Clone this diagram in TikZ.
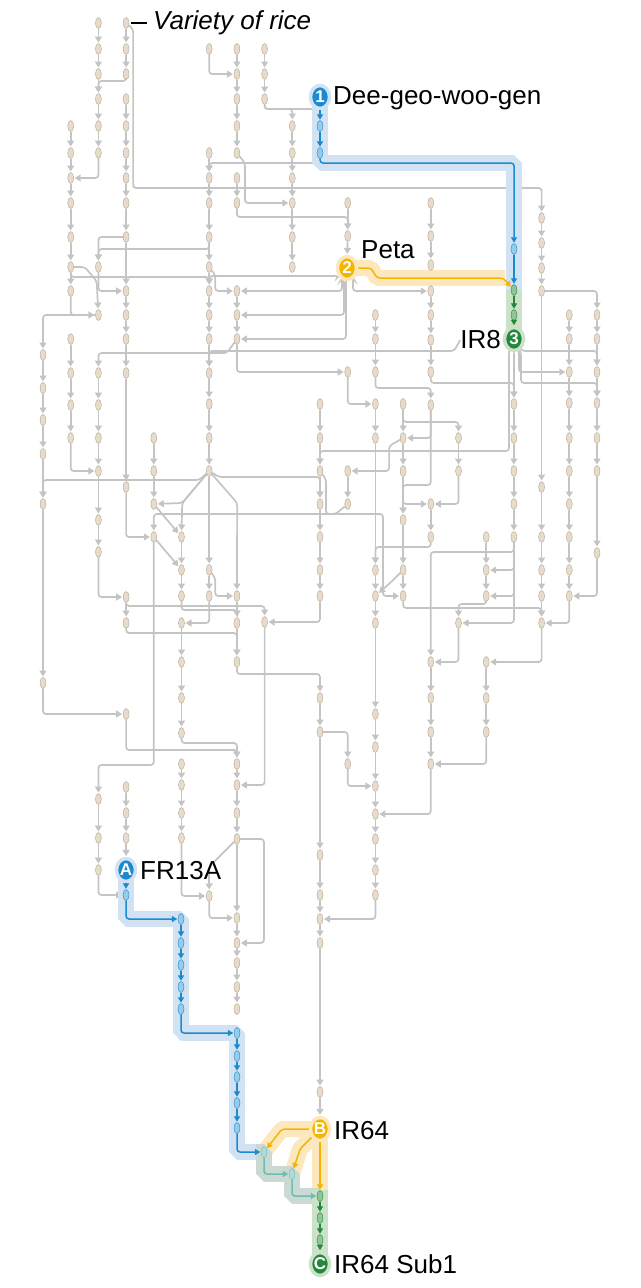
\documentclass[tikz,border=0pt]{standalone}
\usepackage{fontspec}
\setmainfont{Liberation Sans}
\usetikzlibrary{arrows.meta, shapes.geometric, calc}
\definecolor{seedfill}{HTML}{E6DBCC}
\definecolor{seedrim}{HTML}{B8A58B}
\definecolor{wiregrey}{HTML}{C4C4C4}
\definecolor{c1}{HTML}{1B8AD0}
\definecolor{c1band}{HTML}{D1E2F3}
\definecolor{c2}{HTML}{F5B400}
\definecolor{c2band}{HTML}{FDE8BE}
\definecolor{c3}{HTML}{24883A}
\definecolor{c3band}{HTML}{CCE2C8}
\definecolor{c4}{HTML}{6CBDB4}
\definecolor{c4band}{HTML}{CADAD3}
\pgfdeclarelayer{wires}
\pgfdeclarelayer{bands}
\pgfsetlayers{wires,bands,main}

\begin{document}
\begin{tikzpicture}[
    x=1pt, y=-1pt,
    seedbox/.style={ellipse, draw=seedrim, fill=seedfill, line width=0.4pt,
        minimum width=6pt, minimum height=11pt, inner sep=0pt},
    bluebox/.style={seedbox, draw=c1, fill=c1!45!white},
    greenbox/.style={seedbox, draw=c3, fill=c3!50!white},
    tealbox/.style={seedbox, draw=c4, fill=c4!55!white},
    wire/.style={draw=wiregrey, line width=1.7pt, rounded corners=3pt,
        -{Triangle[length=6pt, width=7pt]}, shorten >=0.8pt},
    hl/.style={draw=#1, line width=1.5pt, rounded corners=3pt,
        -{Triangle[length=5.5pt, width=6pt]}, shorten >=0.5pt},
    band/.style={draw=#1, line width=16pt, line join=bevel, line cap=butt},
    badge/.style={ellipse, fill=#1, text=white, minimum width=19pt, minimum height=23pt,
        inner sep=0pt, font=\bfseries\fontsize{17}{17}\selectfont},
    halo/.style={draw=#1, line width=3.5pt},
    lab/.style={inner sep=0pt, font=\fontsize{26}{29}\selectfont},
]
\useasboundingbox (0,0) rectangle (640,1288);

% === VARIETIES (column / rows) ===
\foreach \c/\rows in {
    0/{355,388,420,454,504,683},
    1/{126,153,178,203,237,267,291,339,373,405,438},
    2/{23,49,74,99,126,153,267,315,373,405,438,471,520,552,799,838,870},
    3/{23,49,74,99,126,153,178,203,237,291,315,339,373,487,597,623,714,787,813,838},
    4/{438,471,504,537},
    5/{537,570,596,623,662,698,733,764,785,813,838},
    6/{49,153,178,203,237,267,291,315,339,373,404,438,471,570,596,896},
    7/{49,74,99,126,153,178,203,291,315,339,596,623,662,764,785,813,839,918,943,963,987,1009},
    8/{49,74,99,622},
    9/{126,153,178,203,237,267},
    10/{404,438,471,504,537,570,596,698,732,855,895,919,943,1092},
    11/{203,236,372,471,504,764},
    12/{315,339,372,404,438,570,596,623,714,747,786,814,839,870,895},
    13/{404,438,471,520,570,596},
    14/{203,236,265,291,315,340,372,405,504,537,662,698,732,764},
    15/{438,471,623},
    16/{537,570,596,662,698,732},
    17/{404,438,471,504,537},
    18/{218,243,268,291,487,537,570,596,623},
    19/{315,339,372,403,438,471,504,537,570,596},
    20/{315,339,372,403,438,471,553}%
}{
    \foreach \r in \rows {
        \node[seedbox] (n\c-\r) at ({43+27.7*\c},\r) {};
    }
}

% === HIGHLIGHTED LINES ===
\foreach \x/\r in {320/126, 320/153, 514/249, 126/895, 181/919, 181/943, 181/965,
    181/987, 181/1009, 237/1033, 237/1056, 237/1077, 237/1103, 237/1128}{
    \node[bluebox] (b\x-\r) at (\x,\r) {};
}
\node[greenbox] (g514-290) at (514,290) {};
\node[greenbox] (g514-315) at (514,315) {};
\foreach \r in {1196,1218,1240}{
    \node[greenbox] (g320-\r) at (320,\r) {};
}
\node[tealbox] (t264-1152) at (264,1152) {};
\node[tealbox] (t292-1174) at (292,1174) {};

% badges
\node[badge=c1, halo=c1band] (dgwg) at (320,97) {1};
\node[badge=c2, halo=c2band] (peta) at (347,268) {2};
\node[badge=c3, halo=c3band] (ir8) at (514,339) {3};
\node[badge=c1, halo=c1band] (fr13a) at (126,870) {A};
\node[badge=c2, halo=c2band] (ir64) at (320,1129) {B};
\node[badge=c3, halo=c3band] (sub1) at (320,1264) {C};

% labels
\node[lab, anchor=west] (dgwglab) at (333,98) {Dee-geo-woo-gen};
\node[lab, anchor=west] (petalab) at (361,250) {Peta};
\node[lab, anchor=east] (ir8lab) at (501,340) {IR8};
\node[lab, anchor=west] (fr13alab) at (140,871) {FR13A};
\node[lab, anchor=west] (ir64lab) at (334,1131) {IR64};
\node[lab, anchor=west] (sub1lab) at (334,1264) {IR64 Sub1};
\node[lab, anchor=west, font=\fontsize{26}{29}\selectfont\itshape] (vlab) at (153,23) {Variety of rice};
\draw[line width=1.3pt] ([xshift=2pt]n3-23.east) -- ([xshift=-6pt]vlab.west);

% === GREY PEDIGREE LINKS ===
\begin{pgfonlayer}{wires}
% straight down a column
\foreach \c/\a/\b in {
    0/355/388, 0/388/420, 0/420/454, 0/454/504, 0/504/683,
    1/126/153, 1/153/178, 1/178/203, 1/203/237, 1/237/267, 1/267/291, 1/339/373, 1/373/405, 1/405/438,
    2/23/49, 2/49/74, 2/74/99, 2/99/126, 2/126/153, 2/373/405, 2/405/438, 2/438/471, 2/471/520, 2/520/552, 2/799/838, 2/838/870,
    3/23/49, 3/49/74, 3/99/126, 3/126/153, 3/153/178, 3/178/203, 3/203/237, 3/237/291, 3/291/315, 3/315/339, 3/339/373, 3/373/487, 3/597/623, 3/787/813, 3/813/838,
    4/438/471, 4/471/504,
    5/537/570, 5/570/596, 5/623/662, 5/662/698, 5/698/733, 5/764/785, 5/785/813, 5/813/838,
    6/153/178, 6/178/203, 6/203/237, 6/237/267, 6/267/291, 6/291/315, 6/315/339, 6/339/373, 6/373/404, 6/404/438, 6/438/471, 6/471/570, 6/570/596,
    7/49/74, 7/74/99, 7/99/126, 7/126/153, 7/178/203, 7/291/315, 7/315/339, 7/596/623, 7/623/662, 7/764/785, 7/785/813, 7/813/839, 7/839/918, 7/918/943, 7/943/963, 7/963/987, 7/987/1009,
    8/49/74, 8/74/99,
    9/126/153, 9/153/178, 9/178/203, 9/203/237, 9/237/267,
    10/404/438, 10/438/471, 10/471/504, 10/504/537, 10/537/570, 10/570/596, 10/698/732, 10/732/855, 10/855/895, 10/895/919, 10/919/943, 10/943/1092,
    11/203/236, 11/471/504,
    12/315/339, 12/339/372, 12/404/438, 12/438/570, 12/570/596, 12/596/623, 12/623/714, 12/714/747, 12/747/786, 12/786/814, 12/814/839, 12/839/870, 12/870/895,
    13/404/438, 13/438/471, 13/471/520, 13/520/570, 13/570/596,
    14/203/236, 14/236/265, 14/265/291, 14/291/315, 14/315/340, 14/340/372, 14/504/537, 14/662/698, 14/698/732, 14/732/764,
    15/438/471,
    16/537/570, 16/570/596, 16/662/698, 16/698/732,
    17/404/438, 17/438/471, 17/471/504, 17/504/537,
    18/218/243, 18/243/268, 18/268/291, 18/291/487, 18/487/537, 18/537/570, 18/570/596, 18/596/623,
    19/315/339, 19/339/372, 19/372/403, 19/403/438, 19/438/471, 19/471/504, 19/504/537, 19/537/570, 19/570/596,
    20/315/339, 20/339/372, 20/372/403, 20/403/438, 20/438/471, 20/471/553%
}{
    \draw[wire] (n\c-\a) -- (n\c-\b);
}
\draw[wire] (n11-236) -- (peta);
\draw[wire] (n3-838) -- (fr13a);
\draw[wire] (n10-1092) -- (ir64);
\draw[wire] (ir8) -- (n17-404);

% down, then across into the side
\foreach \a/\b in {
    n2-153/n1-178, n6-49/n7-74, n2-267/n3-291, n1-291/n2-315, n7-339/n11-372,
    n11-372/n12-404, n14-405/n13-438, n13-471/n14-504, n15-471/n14-504,
    n17-537/n15-623, n17-537/n16-570, n17-537/n16-596, n15-623/n14-662,
    n18-623/n16-662, n19-596/n18-623, n20-553/n19-596, n16-732/n14-764,
    n14-764/n12-814, n12-895/n10-919, n11-764/n12-786, n8-622/n7-785,
    n10-596/n8-622, n2-552/n3-597, n6-596/n5-623, n3-487/n4-537,
    n0-683/n3-714, n5-838/n6-896, n6-896/n7-918, n1-438/n2-471, n2-870/b126-895%
}{
    \draw[wire] (\a) |- (\b);
}

% across, then down into the top
\foreach \a/\b in {n2-315/n0-355, n3-237/n2-267, n18-291/n20-315, n10-732/n11-764}{
    \draw[wire] (\a) -| (\b);
}

% drop a little, across, down into the top
\foreach \a/\b/\d in {
    n3-74/n2-99/7, n8-99/n9-126/10, n8-99/b320-126/10, b320-153/n6-178/10,
    n7-203/n11-236/14, n6-237/n2-267/12, n1-267/n6-291/10, n12-372/n14-405/16,
    n14-372/n17-404/11, n17-537/n14-662/15, n16-596/n15-623/8, n13-596/n18-623/12,
    n7-662/n10-698/12, n3-623/n7-662/10, n5-733/n7-764/10, n3-714/n7-764/36,
    n3-597/n8-622/9, n5-596/n7-623/14, n14-537/n12-570/10, n14-405/n13-520/80,
    n13-404/n15-438/18, n4-537/n2-799/228%
}{
    \draw[wire] (\a) -- ++(0,\d) -| (\b);
}

% odd routes
\draw[wire] (n3-23) -- ++(7,6) -- ++(0,159) -| (n18-218);
\draw[wire] (n7-153) -- ++(8,10) |- (n9-203);
\draw[wire] (n6-267) -- ++(6,8) |- (n7-291);
\draw[wire] (n6-570) -- ++(6,8) |- (n7-596);
\draw[wire] (n1-267) -- ++(14,0) -- ++(12,14) -- (n2-315);
\draw[wire] (n7-339) -- ++(-10,14) -| (n2-373);
\draw[wire] (ir8lab.west) -- ++(-6,11) -| (n6-373);
\draw[wire] (n6-471) -- ++(-10,9) -| (n0-504);
\draw[wire] (n6-471) -- ++(-27,32) -- (n5-537);
\draw[wire] (n6-471) -- ++(-27,32) -- (n4-504);
\draw[wire] (n6-471) -- ++(10,6) -| (n10-504);
\draw[wire] (n6-471) -- ++(28,32) -- (n7-596);
\draw[wire] (n4-504) -- (n5-537);
\draw[wire] (n4-537) -- (n5-570);
\draw[wire] (n11-504) -- ++(-12,10) -| (n4-537);
\draw[wire] (n10-471) -- ++(6,8) |- (383,514) |- (n13-596);
\draw[wire] (n13-570) -- ++(-12,12) -- (n12-596);
\draw[wire] (n13-438) -- ++(-14,8) |- (n11-471);
\draw[wire] (n7-839) -- ++(-28,28) -- (n6-896);
\draw[wire] (n7-839) -- ++(27,0) |- (n7-943);
% from Peta
\draw[wire] (peta) -- ++(-8,8) -| (n6-291);
\draw[wire] (peta) -- ++(-5,10) |- (n7-291);
\draw[wire] (peta) -- ++(-3,12) |- (n7-315);
\draw[wire] (peta) -- ++(-1,14) |- (n7-339);
\draw[wire] (peta) -- ++(6,10) |- (n14-291);
% from IR8
\draw[wire] (ir8) -- ++(-5,12) -- ++(0,100) -| (n10-471);
\draw[wire] (ir8) -- ++(5,12) |- (n19-372);
\draw[wire] (ir8) -- ++(8,12) -| (n20-372);
\draw[wire] (ir8) -- ++(7,14) -- ++(0,30) -| (n20-403);
\end{pgfonlayer}

% === BANDS ===
\begin{pgfonlayer}{bands}
\draw[band=c2band] (peta.center) -- ++(24,0) -- ++(6,10) -- ++(128,0);
\draw[band=c1band] (dgwg.center) -- ($(b320-153)+(0,10)$) -| (g514-290.center);
\draw[band=c3band] (g514-290.center) -- (ir8.center);
\draw[band=c2band] (ir64.center) -- ++(-38,0) -- (t264-1152.center);
\draw[band=c2band] (ir64.center) -- ++(-20,20) -- (t292-1174.center);
\draw[band=c2band] (ir64.center) -- (g320-1196.center);
\draw[band=c1band] (fr13a.center) |- (b181-919.center) |- (b237-1033.center) |- ($(t264-1152)+(-8,0)$);
\draw[band=c4band] ($(t264-1152)+(-8,0)$) -- (t264-1152.center) |- (t292-1174.center) |- (g320-1196.center);
\draw[band=c3band] ($(g320-1196)+(0,-6)$) -- (sub1.center);
\end{pgfonlayer}

% === HIGHLIGHTED LINKS ===
\draw[hl=c1] (dgwg) -- (b320-126);
\draw[hl=c1] (b320-126) -- (b320-153);
\draw[hl=c1] (b320-153) -- ++(0,10) -| (b514-249);
\draw[hl=c1] (b514-249) -- (g514-290);
\draw[hl=c2] (peta) -- ++(24,0) -- ++(6,10) -- ++(126,0) -- (g514-290);
\draw[hl=c3] (g514-290) -- (g514-315);
\draw[hl=c3] (g514-315) -- (ir8);

\draw[hl=c1] (fr13a) -- (b126-895);
\draw[hl=c1] (b126-895) |- (b181-919);
\foreach \a/\b in {919/943, 943/965, 965/987, 987/1009}{
    \draw[hl=c1] (b181-\a) -- (b181-\b);
}
\draw[hl=c1] (b181-1009) |- (b237-1033);
\foreach \a/\b in {1033/1056, 1056/1077, 1077/1103, 1103/1128}{
    \draw[hl=c1] (b237-\a) -- (b237-\b);
}
\draw[hl=c1] (b237-1128) |- (t264-1152);
\draw[hl=c4] (t264-1152) |- (t292-1174);
\draw[hl=c4] (t292-1174) |- (g320-1196);
\draw[hl=c2] (ir64) -- ++(-38,0) -- (t264-1152);
\draw[hl=c2] (ir64) -- ++(-20,20) -- (t292-1174);
\draw[hl=c2] (ir64) -- (g320-1196);
\foreach \a/\b in {1196/1218, 1218/1240}{
    \draw[hl=c3] (g320-\a) -- (g320-\b);
}
\draw[hl=c3] (g320-1240) -- (sub1);

\end{tikzpicture}
\end{document}
